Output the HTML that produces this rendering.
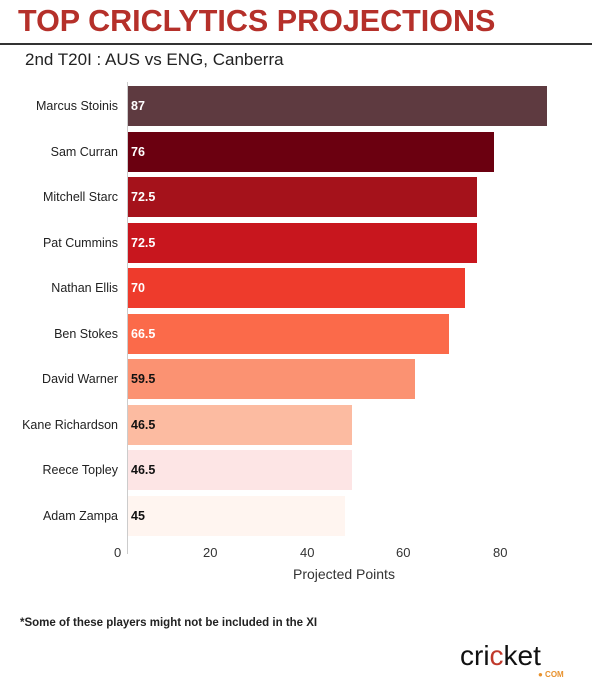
<!DOCTYPE html>
<html><head><meta charset="utf-8"><style>
body{margin:0;width:600px;height:691px;background:#fff;position:relative;font-family:"Liberation Sans",sans-serif;overflow:hidden}
.a{position:absolute;white-space:nowrap}
.lab{position:absolute;right:482px;font-size:12.5px;color:#222;transform:translateY(-50%)}
.bar{position:absolute;left:128px;height:40px}
.v{position:absolute;left:131px;font-size:12.5px;font-weight:bold;transform:translateY(-50%)}
.t{position:absolute;top:545px;font-size:13px;color:#333}
</style></head><body>
<div class="a" style="left:18px;top:4px;font-size:30.5px;font-weight:bold;color:#b5302a;letter-spacing:0px">TOP CRICLYTICS PROJECTIONS</div>
<div class="a" style="left:0;top:43px;width:592px;height:2px;background:#333"></div>
<div class="a" style="left:25px;top:50px;font-size:17px;color:#222">2nd T20I : AUS vs ENG, Canberra</div>
<div class="a" style="left:127px;top:82px;width:1px;height:472px;background:#ccc"></div>

<div class="bar" style="top:86px;width:419px;background:#5e3a40"></div>
<div class="bar" style="top:132px;width:366px;background:#6b0010"></div>
<div class="bar" style="top:177px;width:349px;background:#a5121b"></div>
<div class="bar" style="top:223px;width:349px;background:#c8161e"></div>
<div class="bar" style="top:268px;width:337px;background:#ee3b2c"></div>
<div class="bar" style="top:314px;width:321px;background:#fb6a4a"></div>
<div class="bar" style="top:359px;width:287px;background:#fb9272"></div>
<div class="bar" style="top:405px;width:224px;background:#fcbba1"></div>
<div class="bar" style="top:450px;width:224px;background:#fde5e5"></div>
<div class="bar" style="top:496px;width:217px;background:#fff5f0"></div>

<div class="lab" style="top:106px">Marcus Stoinis</div>
<div class="lab" style="top:152px">Sam Curran</div>
<div class="lab" style="top:197px">Mitchell Starc</div>
<div class="lab" style="top:243px">Pat Cummins</div>
<div class="lab" style="top:288px">Nathan Ellis</div>
<div class="lab" style="top:334px">Ben Stokes</div>
<div class="lab" style="top:379px">David Warner</div>
<div class="lab" style="top:425px">Kane Richardson</div>
<div class="lab" style="top:470px">Reece Topley</div>
<div class="lab" style="top:516px">Adam Zampa</div>

<div class="v" style="top:106px;color:#fff">87</div>
<div class="v" style="top:152px;color:#fff">76</div>
<div class="v" style="top:197px;color:#fff">72.5</div>
<div class="v" style="top:243px;color:#fff">72.5</div>
<div class="v" style="top:288px;color:#fff">70</div>
<div class="v" style="top:334px;color:#fff">66.5</div>
<div class="v" style="top:379px;color:#111">59.5</div>
<div class="v" style="top:425px;color:#111">46.5</div>
<div class="v" style="top:470px;color:#111">46.5</div>
<div class="v" style="top:516px;color:#111">45</div>

<div class="t" style="left:114px">0</div>
<div class="t" style="left:203px">20</div>
<div class="t" style="left:300px">40</div>
<div class="t" style="left:396px">60</div>
<div class="t" style="left:493px">80</div>
<div class="a" style="left:293px;top:566px;font-size:14px;color:#333">Projected Points</div>
<div class="a" style="left:20px;top:617px;font-size:11.5px;font-weight:bold;color:#222">*Some of these players might not be included in the XI</div>
<div class="a" style="left:460px;top:640px;font-size:28px;color:#111;letter-spacing:0px">cri<span style="color:#c0392b">c</span>ket</div>
<div class="a" style="left:538px;top:670px;font-size:8px;font-weight:bold;color:#e8912d">● COM</div>
</body></html>
